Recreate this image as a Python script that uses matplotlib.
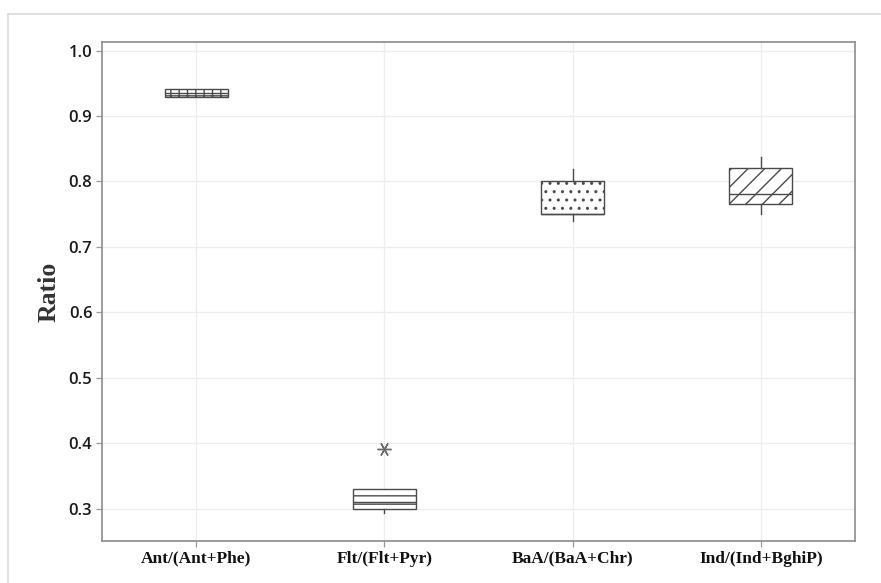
import matplotlib
matplotlib.use("Agg")
import matplotlib.pyplot as plt
from matplotlib.lines import Line2D

# Diagnostic ratio statistics (box-plot summary per ratio)
categories = ["Ant/(Ant+Phe)", "Flt/(Flt+Pyr)", "BaA/(BaA+Chr)", "Ind/(Ind+BghiP)"]
q1 = [0.9295, 0.300, 0.750, 0.765]
median = [0.9355, 0.310, 0.750, 0.781]
q3 = [0.9405, 0.330, 0.800, 0.820]
whisker_low = [0.9295, 0.293, 0.740, 0.751]
whisker_high = [0.9405, 0.330, 0.819, 0.838]
outliers = [[], [0.391], [], []]
hatches = ["++", "--", "..", "//"]

y_ticks = [0.3, 0.4, 0.5, 0.6, 0.7, 0.8, 0.9, 1.0]

edge = "#4a4a4a"
plt.rcParams["hatch.color"] = edge
plt.rcParams["hatch.linewidth"] = 1.0

fig = plt.figure(figsize=(8.81, 5.83), dpi=100)
ax = fig.add_axes([102 / 881, 42 / 583, (855 - 102) / 881, (541 - 42) / 583])

stats = []
for i, name in enumerate(categories):
    stats.append(dict(label=name, q1=q1[i], med=median[i], q3=q3[i],
                      whislo=whisker_low[i], whishi=whisker_high[i],
                      fliers=outliers[i]))

positions = list(range(1, len(categories) + 1))
res = ax.bxp(stats, positions=positions, widths=0.335, patch_artist=True,
             showcaps=False,
             boxprops=dict(facecolor="white", edgecolor=edge, linewidth=1.0),
             medianprops=dict(color=edge, linewidth=1.0),
             whiskerprops=dict(color=edge, linewidth=1.0),
             flierprops=dict(marker=(6, 2, 30), markersize=10,
                             markeredgecolor="#6a6a6a", markeredgewidth=1.0,
                             linestyle="none"))
for box, h in zip(res["boxes"], hatches):
    box.set_hatch(h)
    box.set_zorder(3)
for k in ("medians", "whiskers", "fliers"):
    for art in res[k]:
        art.set_zorder(4)

ax.set_xlim(0.5, 4.5)
ax.set_ylim(0.251, 1.013)
ax.set_yticks(y_ticks)
ax.set_yticklabels([f"{v:.1f}" for v in y_ticks],
                   fontdict=dict(family="Open Sans", size=12, weight="semibold"),
                   color="#1a1a1a")
ax.set_xticks(positions)
ax.set_xticklabels(categories,
                   fontdict=dict(family="Liberation Serif", size=12.5, weight="bold"),
                   color="#111111")
ax.set_ylabel("Ratio", family="Liberation Serif", size=18.5, weight="bold",
              color="#333333", labelpad=5.5)

ax.grid(True, color="#ededed", linewidth=0.9, zorder=0)
ax.set_axisbelow(True)
for sp in ax.spines.values():
    sp.set_color("#8c8c8c")
    sp.set_linewidth(1.2)
ax.tick_params(axis="both", direction="out", length=4, width=0.9, color="#9a9a9a")
ax.tick_params(axis="y", pad=3)
ax.tick_params(axis="x", pad=3)

# light frame around the graph area
fig.add_artist(Line2D([8 / 881, 8 / 881], [0, 1 - 14 / 583],
                      transform=fig.transFigure, color="#d9d9d9", linewidth=1.2))
fig.add_artist(Line2D([8 / 881, 880 / 881], [1 - 14 / 583, 1 - 14 / 583],
                      transform=fig.transFigure, color="#d9d9d9", linewidth=1.2))

fig.savefig("out.png", dpi=100)
